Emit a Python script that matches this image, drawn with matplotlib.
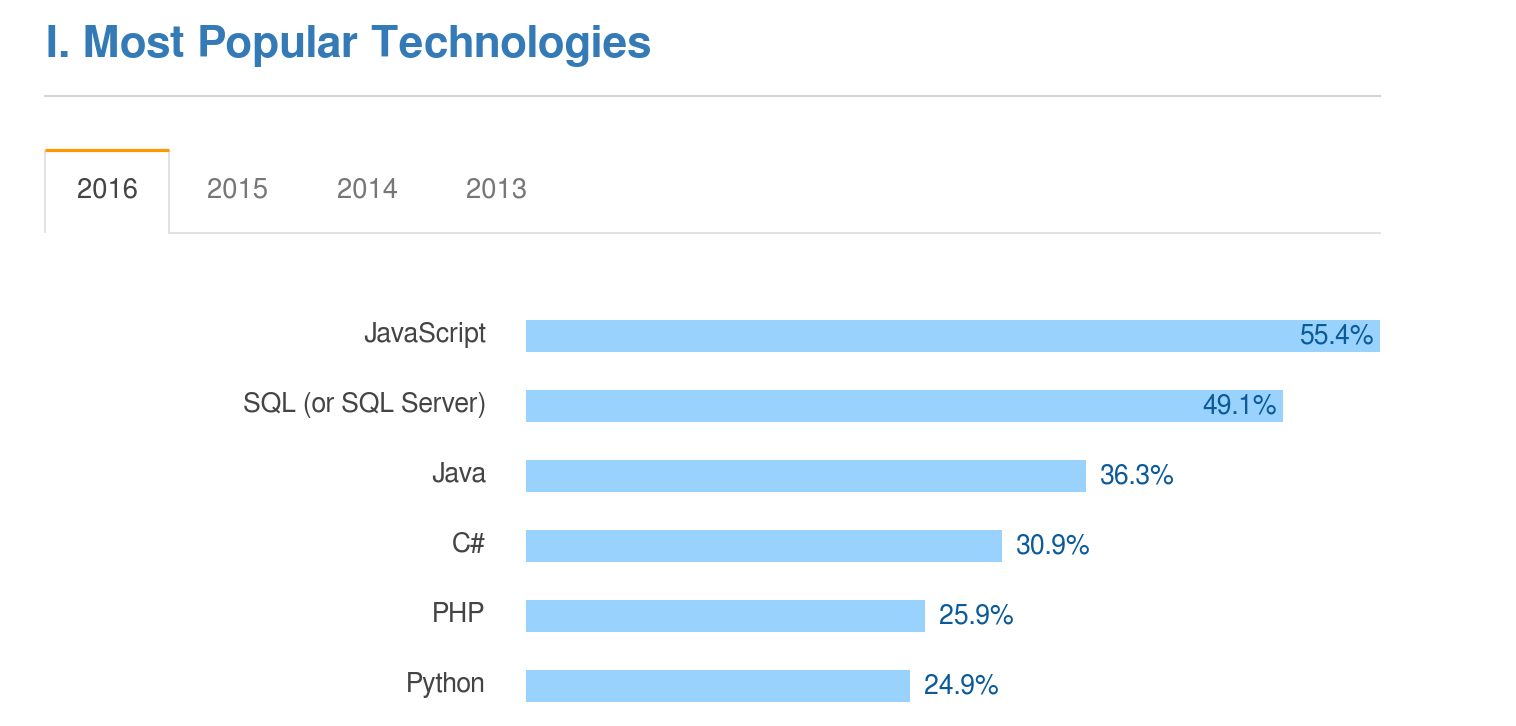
import matplotlib
matplotlib.use("Agg")
import matplotlib.pyplot as plt
from matplotlib.lines import Line2D

plt.rcParams['font.family'] = ['FreeSans', 'Liberation Sans', 'DejaVu Sans']

# ---- data ----
title = "I. Most Popular Technologies"
tabs = ["2016", "2015", "2014", "2013"]
categories = ["JavaScript", "SQL (or SQL Server)", "Java", "C#", "PHP", "Python"]
values = [55.4, 49.1, 36.3, 30.9, 25.9, 24.9]

W, H = 1516, 726
fig = plt.figure(figsize=(W / 100, H / 100), dpi=100)
fig.patch.set_facecolor("white")

def fx(x):
    return x / W

def fy(y):
    return 1 - y / H

def px2pt(p):
    return p * 72 / 100

# title
fig.text(fx(45), fy(57), title, fontsize=px2pt(44.3), fontweight="bold",
         color="#337ab7", ha="left", va="baseline")

# horizontal rule
fig.add_artist(Line2D([fx(45), fx(1380)], [fy(96), fy(96)], color="#d6d6d6",
                      lw=1.5, transform=fig.transFigure))

# tabs
gray = "#dddddd"
fig.add_artist(Line2D([fx(45), fx(45)], [fy(151), fy(232)], color=gray, lw=1.2,
                      transform=fig.transFigure))
fig.add_artist(Line2D([fx(169), fx(169)], [fy(151), fy(232)], color=gray, lw=1.2,
                      transform=fig.transFigure))
fig.add_artist(Line2D([fx(169), fx(1380)], [fy(232.5), fy(232.5)], color=gray, lw=1.2,
                      transform=fig.transFigure))
fig.add_artist(Line2D([fx(45), fx(169)], [fy(149.5), fy(149.5)], color="#ff9900",
                      lw=2.3, transform=fig.transFigure, solid_capstyle="butt"))
tab_x = [107, 237, 367, 497]
for i, (t, x) in enumerate(zip(tabs, tab_x)):
    fig.text(fx(x), fy(198), t, fontsize=px2pt(27.5),
             color="#444444" if i == 0 else "#777777",
             ha="center", va="baseline")

# bar chart axes: x from 526 to 1380 px, y from 301 to 726 px
ax = fig.add_axes([fx(526), 0, fx(1380) - fx(526), fy(301)])
n = len(categories)
pos = list(range(n))
bar_h = 32 / 70
ax.barh(pos, values, height=bar_h, color="#99d3fd", edgecolor="none")
ax.set_xlim(0, max(values))
ax.set_ylim(n - 1 + 40 / 70, -0.5)
ax.axis("off")

vmax = max(values)
for p, v, c in zip(pos, values, categories):
    ax.annotate(c, xy=(0, p), xytext=(-40, 1), textcoords="offset pixels",
                ha="right", va="center", fontsize=px2pt(26.6), color="#444444")
    label = f"{v:.1f}%"
    if v > 0.85 * vmax:
        ax.annotate(label, xy=(v, p), xytext=(-6, -1), textcoords="offset pixels",
                    ha="right", va="center", fontsize=px2pt(26.6), color="#0b5a9a")
    else:
        ax.annotate(label, xy=(v, p), xytext=(14, -1), textcoords="offset pixels",
                    ha="left", va="center", fontsize=px2pt(26.6), color="#0b5a9a")

fig.savefig("out.png", dpi=100, facecolor="white")
